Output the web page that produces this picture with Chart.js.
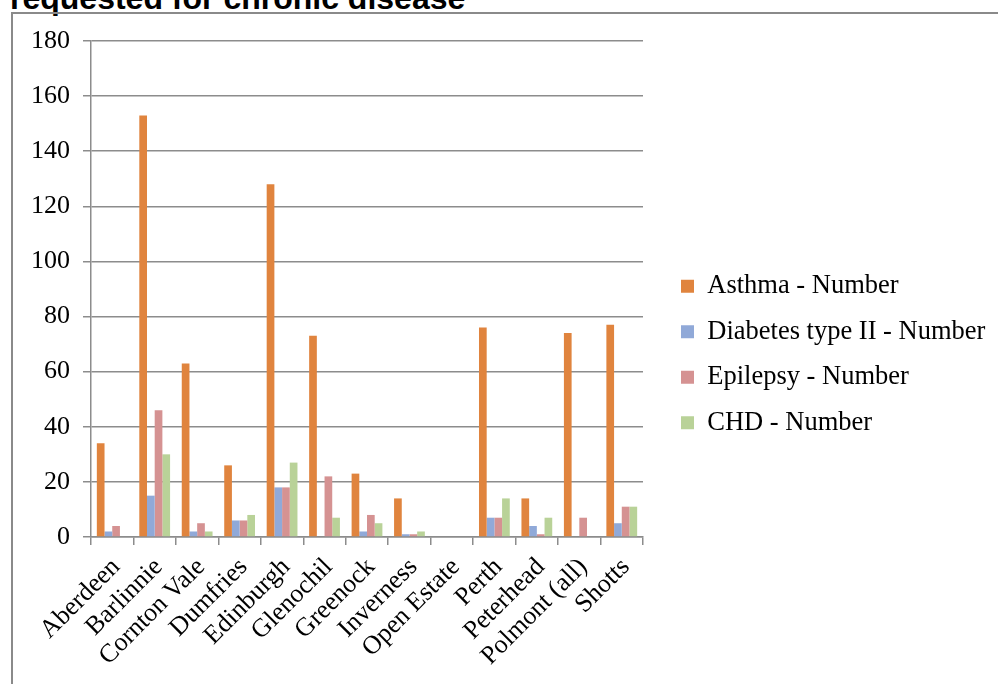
<!DOCTYPE html>
<html>
<head>
<meta charset="utf-8">
<script src="https://cdn.jsdelivr.net/npm/chart.js@4/dist/chart.umd.min.js"></script>
<style>
  html, body { margin: 0; padding: 0; background: #fff; overflow: hidden; }
  #wrap { position: relative; width: 998px; height: 684px; overflow: hidden; }
  #heading {
    position: absolute; left: 10px; top: -18px;
    font: bold 32px/32px 'Liberation Sans', Arial, sans-serif;
    color: #000; white-space: nowrap;
  }
  #frame {
    position: absolute; left: 11px; top: 12px; width: 1000px; height: 700px;
    border-left: 2px solid #8a8a8a; border-top: 2px solid #8a8a8a;
    pointer-events: none;
  }
  canvas { position: absolute; left: 0; top: 0; }
</style>
</head>
<body>
<div id="wrap">
  <div id="heading">requested for chronic disease</div>
  <div id="frame"></div>
  <canvas id="c" width="998" height="684"></canvas>
</div>
<script>
// Establishments and the number of requests for each chronic condition
const categories = ['Aberdeen', 'Barlinnie', 'Cornton Vale', 'Dumfries', 'Edinburgh', 'Glenochil',
  'Greenock', 'Inverness', 'Open Estate', 'Perth', 'Peterhead', 'Polmont (all)', 'Shotts'];
const seriesNames = ['Asthma - Number', 'Diabetes type II - Number', 'Epilepsy - Number', 'CHD - Number'];
const asthma   = [34, 153, 63, 26, 128, 73, 23, 14, 0, 76, 14, 74, 77];
const diabetes = [2, 15, 2, 6, 18, 0, 2, 1, 0, 7, 4, 0, 5];
const epilepsy = [4, 46, 5, 6, 18, 22, 8, 1, 0, 7, 1, 7, 11];
const chd      = [0, 30, 2, 8, 27, 7, 5, 2, 0, 14, 7, 0, 11];
const yTicks   = [0, 20, 40, 60, 80, 100, 120, 140, 160, 180];

const colors = ['#E0843E', '#90A9D8', '#D59292', '#B9D298'];
const serif = "'Liberation Serif', 'Times New Roman', serif";
const lineGray = '#8c8c8c';

// Place the legend block to the right of the plot
const legendPlacer = {
  id: 'legendPlacer',
  afterLayout(chart) {
    const lg = chart.legend;
    if (!lg) return;
    lg.left = 662; lg.right = 998;
    lg.top = 254; lg.bottom = 600;
  }
};

new Chart(document.getElementById('c'), {
  type: 'bar',
  data: {
    labels: categories,
    datasets: [asthma, diabetes, epilepsy, chd].map((vals, i) => ({
      label: seriesNames[i],
      data: vals,
      backgroundColor: colors[i],
      borderWidth: 0,
      categoryPercentage: 0.725,
      barPercentage: 1.0
    }))
  },
  options: {
    responsive: false,
    animation: false,
    layout: { padding: { left: 0, top: 41, right: 55, bottom: 0 } },
    plugins: {
      tooltip: { enabled: false },
      legend: {
        position: 'right',
        align: 'start',
        maxWidth: 300,
        labels: {
          font: { family: serif, size: 26.5 },
          color: '#000',
          boxWidth: 13,
          boxHeight: 13,
          padding: 19
        }
      }
    },
    scales: {
      x: {
        grid: { display: true, drawOnChartArea: false, drawTicks: true, tickLength: 8, color: lineGray, lineWidth: 1.5, offset: true },
        border: { display: true, color: lineGray, width: 1.5 },
        ticks: {
          font: { family: serif, size: 26 },
          color: '#000',
          minRotation: 45, maxRotation: 45,
          padding: 7,
          labelOffset: 4,
          autoSkip: false
        },
        afterFit(scale) { scale.height = 147; }
      },
      y: {
        min: 0, max: 180,
        afterBuildTicks(scale) { scale.ticks = yTicks.map(v => ({ value: v })); },
        grid: { color: lineGray, lineWidth: 1.5, tickLength: 8, drawTicks: true },
        border: { display: true, color: lineGray, width: 1.5 },
        ticks: {
          font: { family: serif, size: 26 },
          color: '#000',
          padding: 13
        },
        afterFit(scale) { scale.width = 91; }
      }
    }
  },
  plugins: [legendPlacer]
});
</script>
</body>
</html>
